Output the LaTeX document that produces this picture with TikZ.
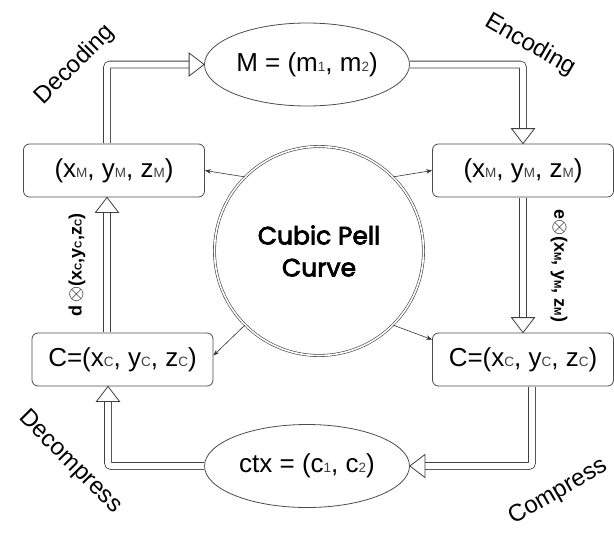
\documentclass[tikz,border=0pt]{standalone}
\usepackage{fontspec}
\setmainfont{Liberation Sans}
\newfontfamily\comicfont[FakeBold=3]{Poppins}
\usetikzlibrary{calc,arrows.meta,shapes.geometric}
\newcommand\sbx[1]{{\fontsize{13.5}{13.5}\selectfont\color{black!75}#1}}
\newcommand\sbl[1]{{\fontsize{10}{10}\selectfont #1}}
\begin{document}
\begin{tikzpicture}[x=1pt,y=-1pt,
  box/.style={draw=black!70, line width=0.8pt, rounded corners=6pt, minimum width=181pt, minimum height=53pt, inner sep=0pt, font=\fontsize{26}{30}\selectfont},
  oval/.style={ellipse, draw=black!70, line width=0.8pt, minimum width=205pt, minimum height=83pt, inner sep=0pt, font=\fontsize{26}{30}\selectfont},
  shaft/.style={draw=black!75, line width=0.8pt, double=white, double distance=6pt, rounded corners=3pt},
  headtri/.style={draw=black!75, line width=0.8pt, fill=white, line join=miter},
  smallarrow/.style={draw=black!80, line width=0.6pt, -{Stealth[length=6pt,width=4.5pt]}},
  lbl/.style={font=\fontsize{24}{28}\selectfont, inner sep=0pt},
  elbl/.style={font=\bfseries\fontsize{18}{20}\selectfont, inner sep=0pt},
]
\useasboundingbox (0,0) rectangle (614,536);
\node[oval] (M) at (307,64.5) {M = (m\sbx{1}, m\sbx{2})};
\node[box] (lt) at (114,170.5) {(x\sbx{M}, y\sbx{M}, z\sbx{M})};
\node[box] (rt) at (523,170.5) {(x\sbx{M}, y\sbx{M}, z\sbx{M})};
\node[box] (lb) at (122.5,359.5) {C=(x\sbx{C}, y\sbx{C}, z\sbx{C})};
\node[box] (rb) at (523,359.5) {C=(x\sbx{C}, y\sbx{C}, z\sbx{C})};
\node[oval] (ctx) at (307,466) {ctx = (c\sbx{1}, c\sbx{2})};
\node[circle, draw=black!75, line width=0.6pt, double, double distance=1.6pt, minimum size=209pt, inner sep=0pt, align=center, font=\comicfont\fontsize{25}{32}\selectfont] (C) at (319,251) {Cubic Pell\\Curve};

% Decoding
\coordinate (d0) at ($(lt.north)+(-7,-0.4)$);
\coordinate (d1) at ($(M.west)+(-15,0)$);
\draw[shaft] (d0) |- (d1);
\draw[headtri] ($(d1)+(0,-11.5)$) -- (M.west) -- ($(d1)+(0,11.5)$) -- cycle;
% Encoding
\coordinate (e1) at ($(rt.north)+(0,-15)$);
\draw[shaft] (M.east) -| (e1);
\draw[headtri] ($(e1)+(-11.5,0)$) -- (rt.north) -- ($(e1)+(11.5,0)$) -- cycle;
% e arrow
\coordinate (f1) at ($(rb.north)+(0,-15)$);
\draw[shaft] ($(rt.south)+(0,0.4)$) -- (f1);
\draw[headtri] ($(f1)+(-11.5,0)$) -- (rb.north) -- ($(f1)+(11.5,0)$) -- cycle;
% Compress
\coordinate (c0) at ($(rb.south)+(9,0.4)$);
\coordinate (c1) at ($(ctx.east)+(15,0)$);
\draw[shaft] (c0) |- (c1);
\draw[headtri] ($(c1)+(0,-11.5)$) -- (ctx.east) -- ($(c1)+(0,11.5)$) -- cycle;
% Decompress
\coordinate (g2) at ($(lb.south)+(-14.5,0)$);
\coordinate (g1) at ($(g2)+(0,15)$);
\draw[shaft] (ctx.west) -| (g1);
\draw[headtri] ($(g1)+(-11.5,0)$) -- (g2) -- ($(g1)+(11.5,0)$) -- cycle;
% d arrow
\coordinate (h0) at ($(lb.north)+(-15.5,-0.4)$);
\coordinate (h2) at ($(lt.south)+(-7,0)$);
\coordinate (h1) at ($(h2)+(0,15)$);
\draw[shaft] (h0) -- (h1);
\draw[headtri] ($(h1)+(-11.5,0)$) -- (h2) -- ($(h1)+(11.5,0)$) -- cycle;

% thin arrows
\draw[smallarrow] (C.135) -- (lt.east);
\draw[smallarrow] (C.45) -- (rt.west);
\draw[smallarrow] (C.225) -- ($(lb.east)+(0,-4)$);
\draw[smallarrow] (C.315) -- ($(rb.north west)+(0,7)$);

% labels
\node[lbl, rotate=45] (decL) at (75,65) {Decoding};
\node[lbl, rotate=-30] (encL) at (530,45) {Encoding};
\node[lbl, rotate=-45] (dcmL) at (70,462) {Decompress};
\node[lbl, rotate=30] (cmpL) at (558,492) {Compress};

\node[elbl, rotate=90] (dL) at (77,265) {d\,{\mdseries\fontsize{22}{22}\selectfont$\otimes$}(x\sbl{C},y\sbl{C},z\sbl{C})};
\node[elbl, rotate=-90] (eL) at (559,266) {e{\mdseries\fontsize{22}{22}\selectfont$\otimes$}(x\sbl{M}, y\sbl{M}, z\sbl{M})};
\end{tikzpicture}
\end{document}
